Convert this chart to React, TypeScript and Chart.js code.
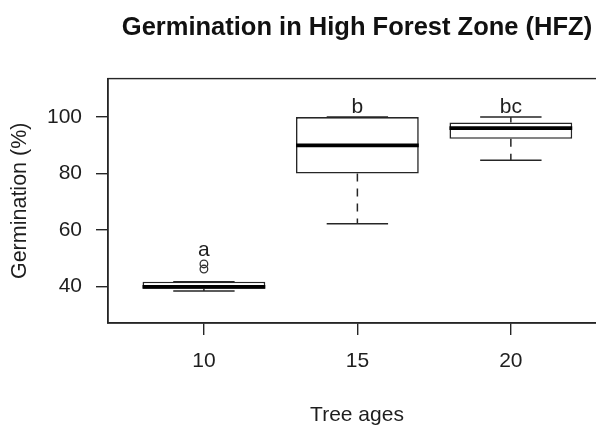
import React, { useEffect, useRef } from 'react';
import { Chart, registerables } from 'chart.js';

Chart.register(...registerables);

const categories = ['10', '15', '20'];
const positions = [1, 2, 3];
const whiskerLow = [38.4, 62.2, 84.7];
const q1 = [39.2, 80, 92.3];
const median = [39.9, 90, 96.1];
const q3 = [41.7, 100, 98.1];
const whiskerHigh = [41.7, 100, 100];
const outlierX = [1, 1];
const outlierY = [46.2, 48.0];
const letters = ['a', 'b', 'bc'];
const yTicks = [40, 60, 80, 100];

const FAMILY = '"Liberation Sans", Arial, Helvetica, sans-serif';
const TEXT = '#1e1e1e';
const LINE = '#262626';
const POINT_R = 3.8;

export default function App() {
  const ref = useRef<HTMLCanvasElement>(null);

  useEffect(() => {
    const canvas = ref.current;
    if (!canvas) return;

    const boxParts = {
      id: 'boxParts',
      afterDatasetsDraw(chart: any) {
        const { ctx, chartArea } = chart;
        const x = chart.scales.x;
        const y = chart.scales.y;
        const meta = chart.getDatasetMeta(0);
        ctx.save();
        // plot frame
        ctx.strokeStyle = LINE;
        ctx.lineWidth = 1.4;
        ctx.setLineDash([]);
        ctx.strokeRect(chartArea.left, chartArea.top, chartArea.right - chartArea.left, chartArea.bottom - chartArea.top);

        positions.forEach((p, i) => {
          const bar = meta.data[i];
          const half = bar.width / 2;
          const cx = x.getPixelForValue(p);
          const capHalf = half * 0.5;
          const yLow = y.getPixelForValue(whiskerLow[i]);
          const yQ1 = y.getPixelForValue(q1[i]);
          const yQ3 = y.getPixelForValue(q3[i]);
          const yHigh = y.getPixelForValue(whiskerHigh[i]);
          const yMed = y.getPixelForValue(median[i]);

          ctx.strokeStyle = LINE;
          ctx.lineWidth = 1.5;
          // dashed whiskers
          ctx.setLineDash([8, 7]);
          ctx.beginPath();
          ctx.moveTo(cx, yQ1);
          ctx.lineTo(cx, yLow);
          ctx.moveTo(cx, yQ3);
          ctx.lineTo(cx, yHigh);
          ctx.stroke();
          // caps
          ctx.setLineDash([]);
          ctx.beginPath();
          ctx.moveTo(cx - capHalf, yLow);
          ctx.lineTo(cx + capHalf, yLow);
          ctx.moveTo(cx - capHalf, yHigh);
          ctx.lineTo(cx + capHalf, yHigh);
          ctx.stroke();
          // median
          ctx.strokeStyle = '#000';
          ctx.lineWidth = 3.8;
          ctx.beginPath();
          ctx.moveTo(cx - half, yMed);
          ctx.lineTo(cx + half, yMed);
          ctx.stroke();

          // group letter above the highest mark of the group
          let topPx = yHigh;
          outlierY.forEach((v, k) => {
            if (outlierX[k] === p) topPx = Math.min(topPx, y.getPixelForValue(v) - POINT_R);
          });
          ctx.fillStyle = TEXT;
          ctx.font = `21px ${FAMILY}`;
          ctx.textAlign = 'center';
          ctx.textBaseline = 'alphabetic';
          ctx.fillText(letters[i], cx, topPx - 4);
        });
        ctx.restore();
      },
    };

    const axisFont = { family: FAMILY, size: 21 };

    const chart = new Chart(canvas, {
      type: 'bar',
      data: {
        datasets: [
          {
            type: 'bar',
            data: positions.map((p, i) => ({ x: p, y: [q1[i], q3[i]] })) as any,
            backgroundColor: '#ffffff',
            borderColor: LINE,
            borderWidth: 1.6,
            borderSkipped: false,
            barPercentage: 0.8,
            categoryPercentage: 1,
            order: 2,
          } as any,
          {
            type: 'scatter',
            data: outlierX.map((xv, k) => ({ x: xv, y: outlierY[k] })),
            pointRadius: POINT_R,
            pointBorderWidth: 1.3,
            pointBorderColor: '#333',
            pointBackgroundColor: 'rgba(0,0,0,0)',
            order: 1,
          } as any,
        ],
      },
      options: {
        responsive: false,
        animation: false,
        layout: { padding: { left: 0, right: 14, top: 0, bottom: 0 } },
        plugins: {
          legend: { display: false },
          tooltip: { enabled: false },
          title: {
            display: true,
            text: 'Germination in High Forest Zone (HFZ)',
            fullSize: false,
            color: '#111',
            font: { family: FAMILY, size: 25.5, weight: 'bold' },
            padding: { top: 13, bottom: 35 },
          } as any,
        },
        scales: {
          x: {
            type: 'linear',
            min: 0.375,
            max: 3.62,
            offset: false,
            afterBuildTicks: (s: any) => {
              s.ticks = positions.map((v) => ({ value: v }));
            },
            afterFit: (s: any) => {
              s.height = 105;
            },
            ticks: {
              callback: (v: any) => categories[positions.indexOf(Number(v))] ?? '',
              font: axisFont,
              color: TEXT,
              padding: 14,
              maxRotation: 0,
              autoSkip: false,
            },
            grid: {
              display: true,
              drawOnChartArea: false,
              drawTicks: true,
              tickLength: 12,
              color: LINE,
              lineWidth: 1.4,
              offset: false,
            },
            border: { display: true, color: LINE, width: 1.4 },
            title: {
              display: true,
              text: 'Tree ages',
              color: TEXT,
              font: axisFont,
              padding: { top: 0, bottom: 0 },
            },
          } as any,
          y: {
            type: 'linear',
            min: 27.1,
            max: 113.6,
            afterBuildTicks: (s: any) => {
              s.ticks = yTicks.map((v) => ({ value: v }));
            },
            afterFit: (s: any) => {
              s.width = 108;
            },
            ticks: {
              font: axisFont,
              color: TEXT,
              padding: 14,
            },
            grid: {
              display: true,
              drawOnChartArea: false,
              drawTicks: true,
              tickLength: 12,
              color: LINE,
              lineWidth: 1.4,
            },
            border: { display: true, color: LINE, width: 1.4 },
            title: {
              display: true,
              text: 'Germination (%)',
              color: TEXT,
              font: { family: FAMILY, size: 21.5 },
              padding: { top: 7, bottom: 0 },
            },
          } as any,
        },
      },
      plugins: [boxParts],
    });

    return () => chart.destroy();
  }, []);

  return (
    <div
      style={{
        position: 'fixed',
        left: 0,
        top: 0,
        width: 596,
        height: 428,
        overflow: 'hidden',
        background: '#fff',
      }}
    >
      <canvas ref={ref} width={620} height={428} style={{ display: 'block' }} />
    </div>
  );
}
